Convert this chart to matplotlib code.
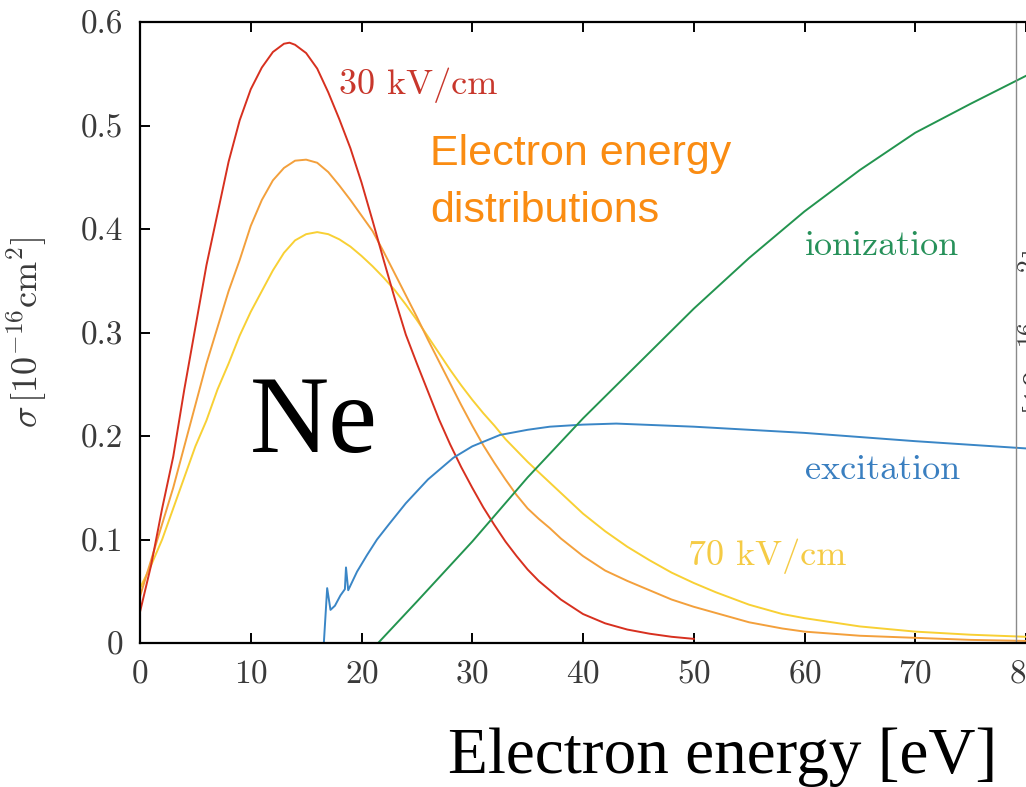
import matplotlib
matplotlib.use("Agg")
import matplotlib.pyplot as plt
import numpy as np

plt.rcParams['font.family'] = 'serif'
plt.rcParams['font.serif'] = ['cmr10']
plt.rcParams['mathtext.fontset'] = 'cm'
plt.rcParams['axes.formatter.use_mathtext'] = True

# ---- electron energy distributions ----
e_30 = [0, 1, 2, 3, 4, 5, 6, 7, 8, 9, 10, 11, 12, 13, 13.5, 14, 15, 16, 17, 18, 19, 20,
        21, 22, 23, 24, 25, 26, 27, 28, 29, 30, 31, 32, 33, 34, 35, 36, 38, 40, 42, 44,
        46, 48, 50]
f_30 = [0.03, 0.075, 0.13, 0.18, 0.245, 0.305, 0.365, 0.415, 0.465, 0.505, 0.535, 0.556,
        0.571, 0.579, 0.58, 0.578, 0.57, 0.555, 0.532, 0.506, 0.478, 0.445, 0.408, 0.37,
        0.333, 0.298, 0.27, 0.243, 0.216, 0.192, 0.17, 0.15, 0.131, 0.114, 0.098, 0.084,
        0.071, 0.06, 0.042, 0.028, 0.019, 0.013, 0.009, 0.006, 0.004]

e_50 = [0, 1, 2, 3, 4, 5, 6, 7, 8, 9, 10, 11, 12, 13, 14, 15, 16, 17, 18, 19, 20, 21, 22,
        23, 24, 25, 26, 27, 28, 29, 30, 31, 32, 33, 34, 35, 36, 37, 38, 40, 42, 44, 46, 48,
        50, 52, 55, 58, 60, 65, 70, 75, 80]
f_50 = [0.045, 0.08, 0.115, 0.15, 0.19, 0.23, 0.27, 0.305, 0.34, 0.37, 0.403, 0.428,
        0.447, 0.459, 0.466, 0.467, 0.464, 0.455, 0.442, 0.428, 0.413, 0.398, 0.378, 0.357,
        0.336, 0.315, 0.293, 0.272, 0.251, 0.23, 0.21, 0.191, 0.174, 0.158, 0.143, 0.13,
        0.12, 0.111, 0.101, 0.084, 0.07, 0.06, 0.051, 0.042, 0.035, 0.029, 0.02, 0.014,
        0.011, 0.007, 0.005, 0.003, 0.002]

e_70 = [0, 1, 2, 3, 4, 5, 6, 7, 8, 9, 10, 11, 12, 13, 14, 15, 16, 17, 18, 19, 20, 21, 22,
        23, 24, 25, 26, 27, 28, 29, 30, 31, 32, 33, 34, 35, 36, 37, 38, 40, 42, 44, 46, 48,
        50, 52, 55, 58, 60, 65, 70, 75, 80]
f_70 = [0.053, 0.075, 0.1, 0.13, 0.16, 0.19, 0.215, 0.245, 0.27, 0.297, 0.32, 0.34, 0.36,
        0.377, 0.389, 0.395, 0.397, 0.395, 0.39, 0.383, 0.374, 0.364, 0.353, 0.341, 0.327,
        0.312, 0.296, 0.28, 0.264, 0.249, 0.235, 0.222, 0.21, 0.197, 0.186, 0.175, 0.165,
        0.155, 0.145, 0.125, 0.108, 0.093, 0.08, 0.068, 0.058, 0.049, 0.037, 0.028, 0.024,
        0.016, 0.011, 0.008, 0.006]

# ---- cross sections ----
e_exc = [16.6, 16.9, 17.2, 17.6, 18.1, 18.5, 18.6, 18.8, 19.6, 20.5, 21.4, 22.5, 24, 26,
         28.3, 30, 32.5, 35, 37, 40, 43, 50, 60, 70, 80]
s_exc = [0.0, 0.053, 0.032, 0.036, 0.046, 0.052, 0.073, 0.051, 0.069, 0.085, 0.1, 0.115,
         0.135, 0.158, 0.179, 0.19, 0.201, 0.206, 0.209, 0.211, 0.212, 0.209, 0.203, 0.195,
         0.188]

e_ion = [21.5, 25, 30, 35, 40, 45, 50, 55, 60, 65, 70, 75, 80]
s_ion = [0.0, 0.04, 0.098, 0.16, 0.217, 0.27, 0.323, 0.372, 0.417, 0.457, 0.493, 0.521,
         0.548]

xticks = [0, 10, 20, 30, 40, 50, 60, 70, 80]
yticks = [0, 0.1, 0.2, 0.3, 0.4, 0.5, 0.6]
ytick_labels = ['0', '0.1', '0.2', '0.3', '0.4', '0.5', '0.6']

W, H = 1026, 787
fig = plt.figure(figsize=(W / 100, H / 100), dpi=100)
ax = fig.add_axes([140 / W, (H - 643) / H, (W - 140) / W, 621 / H])

ax.plot(e_70, f_70, color='#f8d034', lw=1.4)
ax.plot(e_50, f_50, color='#f3a03c', lw=1.4)
ax.plot(e_30, f_30, color='#d7301f', lw=1.4)
ax.plot(e_exc, s_exc, color='#3a86c6', lw=1.4)
ax.plot(e_ion, s_ion, color='#23944f', lw=1.4)

# grey edge of the neighbouring panel
ax.axvline(79.13, color='#8a8a8a', lw=1.0)

ax.set_xlim(0, 80)
ax.set_ylim(0, 0.6)
ax.set_xticks(xticks)
ax.set_yticks(yticks)
ax.set_yticklabels(ytick_labels)
ax.tick_params(direction='in', length=7, width=1.4, top=True, right=False,
               labelsize=24, labelcolor='#3a3a3a', pad=12)
for side in ['left', 'bottom', 'top']:
    ax.spines[side].set_linewidth(1.6)
ax.spines['right'].set_visible(False)

ax.set_ylabel(r'$\sigma\,[10^{-16}\mathrm{cm}^2]$', fontsize=26, color='#3a3a3a')
ax.yaxis.set_label_coords(-0.103, 0.5)
ax.set_xlabel('Electron energy [eV]', fontsize=22, color='#5a5a5a', labelpad=20)

# partial label of the neighbouring panel
fig.text(1017 / W, (H - 345) / H, r'$\sigma\,[10^{-16}\mathrm{cm}^2]$', fontsize=26,
         color='#3a3a3a', rotation=90, ha='left', va='center')

ax.text(18.0, 0.53, '30 kV/cm', fontsize=26, color='#c8372c')
ax.text(49.5, 0.075, '70 kV/cm', fontsize=26, color='#f5cb45')
ax.text(60.0, 0.375, 'ionization', fontsize=26, color='#27915a')
ax.text(60.0, 0.158, 'excitation', fontsize=26, color='#3a7fc0')

ax.text(26.2, 0.462, 'Electron energy', fontsize=31, color='#fa8c12',
        family='Liberation Sans')
ax.text(26.2, 0.407, 'distributions', fontsize=31, color='#fa8c12',
        family='Liberation Sans')

ax.text(9.9, 0.185, 'Ne', fontsize=79, color='black', family='Liberation Serif')

fig.text(448 / W, (H - 773) / H, 'Electron energy [eV]', fontsize=47, color='black',
         family='Liberation Serif', ha='left', va='baseline', zorder=5,
         bbox=dict(facecolor='white', edgecolor='none', pad=9))

fig.savefig('out.png', dpi=100)
